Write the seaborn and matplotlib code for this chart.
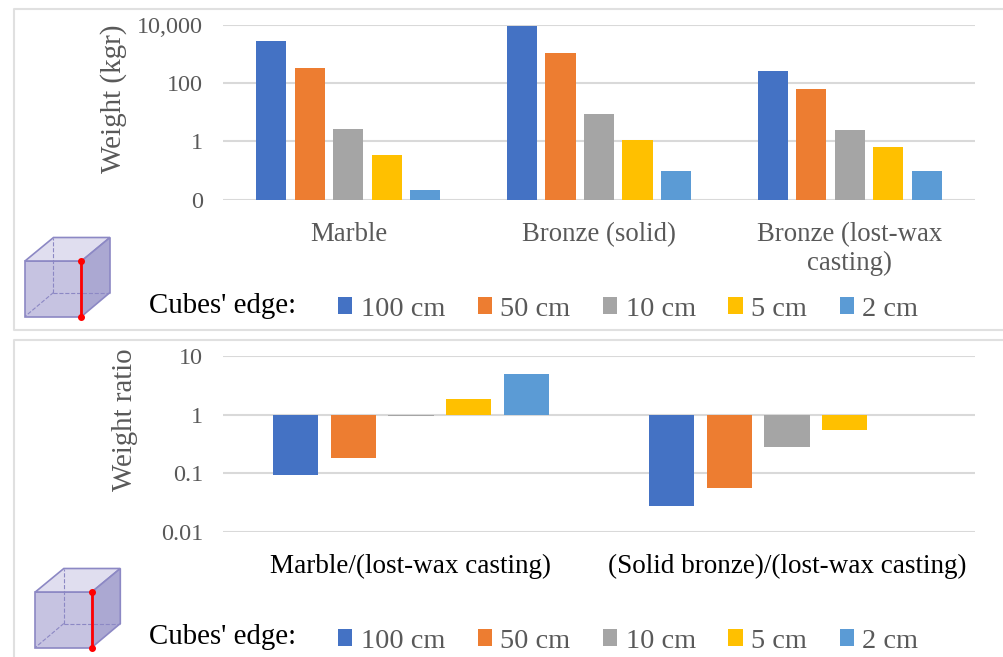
import numpy as np
import pandas as pd
import matplotlib.pyplot as plt
import seaborn as sns
from matplotlib.patches import Polygon

# weights in kg, one list per cube edge
materials = ['Marble', 'Bronze (solid)', 'Bronze (lost-wax\ncasting)']
weight_100 = [2700, 8900, 250]
weight_50 = [337, 1110, 62]
weight_10 = [2.7, 8.9, 2.5]
weight_5 = [0.34, 1.11, 0.62]
weight_2 = [0.022, 0.1, 0.1]

# weight ratios
ratio_names = ['Marble/(lost-wax casting)', '(Solid bronze)/(lost-wax casting)']
ratio_100 = [0.093, 0.028]
ratio_50 = [0.186, 0.0565]
ratio_10 = [0.95, 0.284]
ratio_5 = [1.88, 0.555]
ratio_2 = [5.0, 1.0]

edges = ['100 cm', '50 cm', '10 cm', '5 cm', '2 cm']
colors = ['#4472C4', '#ED7D31', '#A5A5A5', '#FFC000', '#5B9BD5']

sns.set_theme(style='white')
plt.rcParams['font.family'] = ['Liberation Serif', 'DejaVu Serif']

W, H = 1004, 657
GRAY = '#595959'
GRID = '#d9d9d9'


def make_long(names, series):
    rows = []
    for edge, vals in zip(edges, series):
        for n, v in zip(names, vals):
            rows.append({'name': n, 'edge': edge, 'value': v})
    return pd.DataFrame(rows)


def axes_at(x0, x1, y0, y1):
    return fig.add_axes([x0 / W, 1 - y1 / H, (x1 - x0) / W, (y1 - y0) / H])


def style_axes(ax, yticks, ylabels, xcolor, xsize):
    ax.set_yticks(yticks)
    ax.set_yticklabels(ylabels)
    ax.minorticks_off()
    ax.grid(axis='y', color=GRID, lw=1.5)
    ax.set_axisbelow(True)
    sns.despine(ax=ax, left=True, bottom=True)
    ax.tick_params(axis='y', length=0, pad=14.5, labelsize=17.4, labelcolor=GRAY)
    ax.tick_params(axis='x', length=0, pad=16, labelsize=xsize, labelcolor=xcolor)
    ax.set_xlabel('')
    ax.set_ylabel('')
    ax.set_facecolor('none')


def place_legend(ax, y):
    sns.move_legend(ax, 'center left', bbox_to_anchor=(338 / W, 1 - y / H),
                    bbox_transform=fig.transFigure, ncol=5, title=None, frameon=False,
                    fontsize=20.4, labelcolor=GRAY, handlelength=0.5, handleheight=0.5,
                    handletextpad=0.3, columnspacing=1.15, borderpad=0, borderaxespad=0)


def draw_cube(bg, dx, dy):
    pts = {'a': (25, 261), 'b': (81.5, 261), 'c': (81.5, 316.5), 'd': (25, 316.5),
           'e': (53.5, 237.5), 'f': (110, 237.5), 'g': (110, 292.5), 'h': (53.5, 292.5)}
    pts = {k: (x + dx, y + dy) for k, (x, y) in pts.items()}
    face = '#8c88c4'
    bg.add_patch(Polygon([pts[k] for k in 'abcd'], fc='#c6c3e1', ec=face, lw=1.2))
    bg.add_patch(Polygon([pts[k] for k in 'aefb'], fc='#e0deef', ec=face, lw=1.2))
    bg.add_patch(Polygon([pts[k] for k in 'bfgc'], fc='#aba8d2', ec=face, lw=1.2))
    for k in ['e', 'd', 'g']:
        bg.plot([pts['h'][0], pts[k][0]], [pts['h'][1], pts[k][1]], color=face, lw=0.8, ls='--')
    bg.plot([pts['b'][0], pts['c'][0]], [pts['b'][1], pts['c'][1]], color='#ff0000', lw=2,
            marker='o', ms=4)


fig = plt.figure(figsize=(W / 100, H / 100), dpi=100, facecolor='white')

# background frames and cubes, in pixel coordinates
bg = fig.add_axes([0, 0, 1, 1])
bg.set_xlim(0, W)
bg.set_ylim(H, 0)
bg.axis('off')
bg.plot([W, 14.5, 14.5, W], [9, 9, 330, 330], color='#e0e0e0', lw=1.5)
bg.plot([W, 14.5, 14.5], [340, 340, H], color='#e0e0e0', lw=1.5)
draw_cube(bg, 0, 0)
draw_cube(bg, 10.3, 331)

# top chart
top = axes_at(223, 975, 24.7, 199.7)
df_top = make_long(materials, [weight_100, weight_50, weight_10, weight_5, weight_2])
top.set_yscale('log')
sns.barplot(data=df_top, x='name', y='value', hue='edge', palette=colors, ax=top,
            width=0.768, gap=0.213, saturation=1, linewidth=0)
top.set_ylim(0.01, 10000)
top.set_xlim(-0.5, 2.5)
style_axes(top, [0.01, 1, 100, 10000], ['0', '1', '100', '10,000'], GRAY, 19.3)
fig.text(114 / W, 1 - 99 / H, 'Weight (kgr)', rotation=90, color=GRAY, fontsize=21,
         ha='center', va='center')
place_legend(top, 309)
fig.text(149 / W, 1 - 306 / H, "Cubes' edge:", color='black', fontsize=20.8, va='center')

# bottom chart, bars grow from ratio 1 so the log10 is plotted
low = axes_at(223, 975, 356.3, 532)
df_low = make_long(ratio_names, [ratio_100, ratio_50, ratio_10, ratio_5, ratio_2])
df_low['value'] = np.log10(df_low['value'])
sns.barplot(data=df_low, x='name', y='value', hue='edge', palette=colors, ax=low,
            width=0.768, gap=0.213, saturation=1, linewidth=0)
low.set_ylim(-2, 1)
low.set_xlim(-0.5, 1.5)
style_axes(low, [1, 0, -1, -2], ['10', '1', '0.1', '0.01'], 'black', 19.5)
fig.text(125.5 / W, 1 - 420 / H, 'Weight ratio', rotation=90, color=GRAY, fontsize=20.8,
         ha='center', va='center')
place_legend(low, 641)
fig.text(149 / W, 1 - 637 / H, "Cubes' edge:", color='black', fontsize=20.8, va='center')

fig.savefig('out.png', dpi=100)
